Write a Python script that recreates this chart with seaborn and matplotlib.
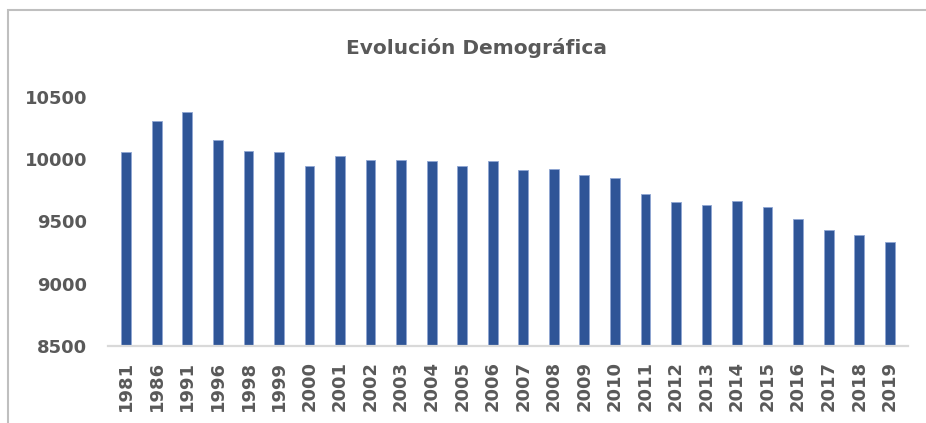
import matplotlib
matplotlib.use("Agg")
import matplotlib.pyplot as plt
import matplotlib.patches as patches
import pandas as pd
import seaborn as sns

# Data
years = ["1981", "1986", "1991", "1996", "1998", "1999", "2000", "2001", "2002",
         "2003", "2004", "2005", "2006", "2007", "2008", "2009", "2010", "2011",
         "2012", "2013", "2014", "2015", "2016", "2017", "2018", "2019"]
population = [10060, 10307, 10379, 10154, 10070, 10060, 9947, 10028, 9998,
              9998, 9987, 9947, 9987, 9915, 9925, 9872, 9853, 9719,
              9654, 9636, 9668, 9614, 9523, 9429, 9389, 9335]
y_ticks = [8500, 9000, 9500, 10000, 10500]
title = "Evolución Demográfica"

bar_color = "#2F5597"
text_color = "#595959"

df = pd.DataFrame({"year": years, "population": population})

sns.set_style("white")
plt.rcParams["font.family"] = ["DejaVu Sans"]

fig = plt.figure(figsize=(9.26, 4.23), dpi=100)
ax = fig.add_axes([0.1166, 0.1827, 0.864, 0.5875])

sns.barplot(data=df, x="year", y="population", color=bar_color,
            width=0.32, saturation=1, edgecolor="#8FA6D3", linewidth=0.6, ax=ax)

ax.set_ylim(8500, 10500)
ax.set_yticks(y_ticks)
ax.set_xlim(-0.6, len(years) - 0.4)
ax.set_xlabel("")
ax.set_ylabel("")

for side in ["top", "right", "left"]:
    ax.spines[side].set_visible(False)
ax.spines["bottom"].set_color("#D9D9D9")
ax.spines["bottom"].set_linewidth(1.6)

ax.tick_params(axis="y", length=0, pad=15, labelsize=13, labelcolor=text_color)
ax.tick_params(axis="x", length=0, pad=11, labelsize=13, labelcolor=text_color,
               labelrotation=90)
for lbl in ax.get_xticklabels() + ax.get_yticklabels():
    lbl.set_fontweight("bold")

fig.text(0.515, 0.886, title, ha="center", va="center", fontsize=14.5,
         fontweight="bold", color=text_color)

# chart frame (only top and left edges are inside the crop)
frame = patches.Rectangle((8 / 926, -0.2), 1.5, (423 - 10) / 423 + 0.2,
                          transform=fig.transFigure, fill=False,
                          edgecolor="#BFBFBF", linewidth=1.5)
fig.add_artist(frame)

fig.savefig("out.png", dpi=100)
